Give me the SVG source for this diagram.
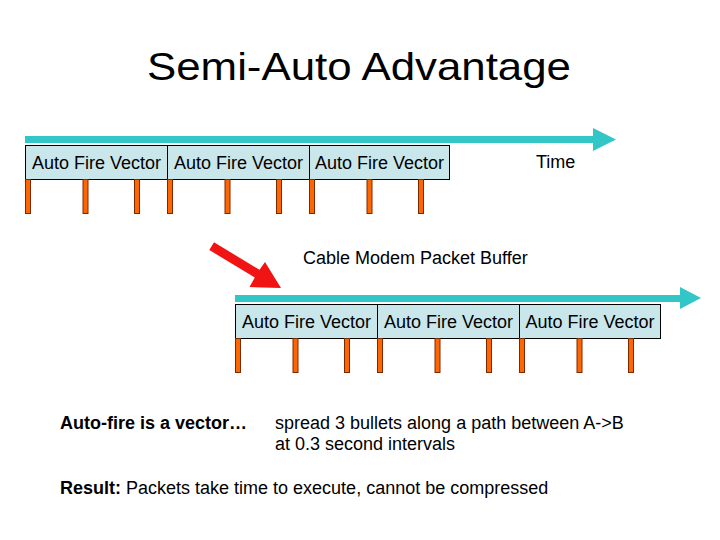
<svg xmlns="http://www.w3.org/2000/svg" width="720" height="540" viewBox="0 0 720 540">
<style>
text{font-family:"Liberation Sans",Arial,sans-serif;fill:#000}
.box{fill:#C9E6EA;stroke:#000;stroke-width:1}
.bl{font-size:18px;text-anchor:middle}
.bar{fill:#FF6600;stroke:#7A2A00;stroke-width:1}
.tl{fill:#33C6C6}
.t18{font-size:18px}
.b18{font-size:18px;font-weight:bold}
</style>
<defs>
<g id="bars">
<rect class="bar" x="0.5" y="0.5" width="5" height="34"/>
<rect class="bar" x="58" y="0.5" width="5" height="34"/>
<rect class="bar" x="109.5" y="0.5" width="5" height="34"/>
</g>
</defs>
<rect width="720" height="540" fill="#fff"/>
<text x="359" y="80" font-size="39" text-anchor="middle" textLength="424" lengthAdjust="spacingAndGlyphs">Semi-Auto Advantage</text>

<g id="connectors">
<rect class="tl" x="25" y="136" width="570" height="7"/>
<polygon class="tl" points="593,128 616,139.5 593,151"/>
<rect class="tl" x="235" y="295" width="447" height="7"/>
<polygon class="tl" points="680,287 701,298 680,309"/>
<polygon fill="#F01414" points="209.3,250 214,242.3 259.5,269.8 265,262 281,288 249.5,287 254.8,277.5"/>
</g>

<g id="row1">
<g id="r1b1"><rect class="box" x="25.5" y="145.5" width="142" height="34"/><text class="bl" x="96.5" y="169">Auto Fire Vector</text></g>
<g id="r1b2"><rect class="box" x="167.5" y="145.5" width="142" height="34"/><text class="bl" x="238.5" y="169">Auto Fire Vector</text></g>
<g id="r1b3"><rect class="box" x="309.5" y="145.5" width="140" height="34"/><text class="bl" x="379.5" y="169">Auto Fire Vector</text></g>
<use href="#bars" x="25" y="179"/>
<use href="#bars" x="167" y="179"/>
<use href="#bars" x="309" y="179"/>
</g>
<g id="time"><text class="t18" x="536" y="168">Time</text></g>
<g id="buffer"><text class="t18" x="303" y="264">Cable Modem Packet Buffer</text></g>

<g id="row2">
<g id="r2b1"><rect class="box" x="235.5" y="304.5" width="142" height="34"/><text class="bl" x="306.5" y="328">Auto Fire Vector</text></g>
<g id="r2b2"><rect class="box" x="377.5" y="304.5" width="142" height="34"/><text class="bl" x="448.5" y="328">Auto Fire Vector</text></g>
<g id="r2b3"><rect class="box" x="519.5" y="304.5" width="141" height="34"/><text class="bl" x="590" y="328">Auto Fire Vector</text></g>
<use href="#bars" x="235" y="338"/>
<use href="#bars" x="377" y="338"/>
<use href="#bars" x="519" y="338"/>
</g>

<g id="notes">
<text class="b18" x="60" y="429">Auto-fire is a vector…</text>
<text class="t18" x="275" y="429">spread 3 bullets along a path between A-&gt;B</text>
<text class="t18" x="275" y="450">at 0.3 second intervals</text>
<text class="t18" x="60" y="494"><tspan font-weight="bold">Result:</tspan> Packets take time to execute, cannot be compressed</text>
</g>
</svg>
